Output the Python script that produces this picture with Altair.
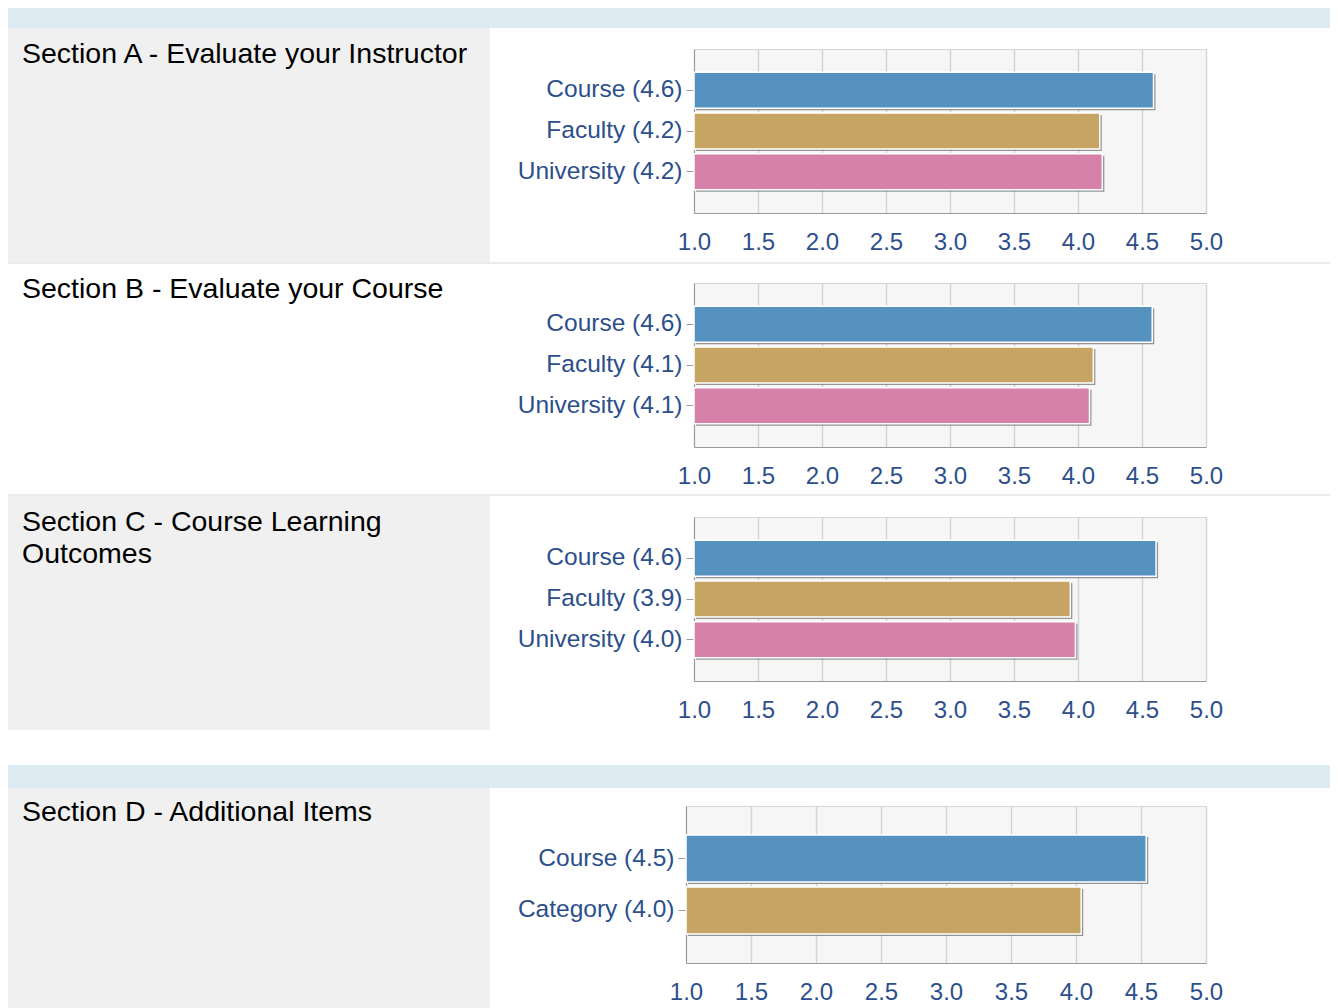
import altair as alt
import pandas as pd

# ---- data ----
SECTION_TITLES = [
    "Section A - Evaluate your Instructor",
    "Section B - Evaluate your Course",
    "Section C - Course Learning\nOutcomes",
    "Section D - Additional Items",
]
A_LABELS = ["Course (4.6)", "Faculty (4.2)", "University (4.2)"]
A_VALUES = [4.59, 4.17, 4.19]
B_LABELS = ["Course (4.6)", "Faculty (4.1)", "University (4.1)"]
B_VALUES = [4.58, 4.12, 4.09]
C_LABELS = ["Course (4.6)", "Faculty (3.9)", "University (4.0)"]
C_VALUES = [4.61, 3.94, 3.98]
D_LABELS = ["Course (4.5)", "Category (4.0)"]
D_VALUES = [4.54, 4.04]
TICKS = [1.0, 1.5, 2.0, 2.5, 3.0, 3.5, 4.0, 4.5, 5.0]
BAR_COLORS = ["#5592c0", "#c6a464", "#d581aa"]

# ---- styles ----
FONT = "Liberation Sans"
LABEL_COLOR = "#2c4f8c"
HEADER = "#deebf3"
GREY = "#f0f0f0"
SEP = "#ebebeb"
FULL_W = 1322
LEFT_W = 482


def blank(w, h, fill="transparent"):
    return (
        alt.Chart(pd.DataFrame({"k": [0]}))
        .mark_rect(opacity=0)
        .encode(x=alt.value(0), x2=alt.value(1), y=alt.value(0), y2=alt.value(1))
        .properties(width=w, height=h,
                    view=alt.ViewBackground(fill=fill, stroke="transparent",
                                            strokeWidth=0))
    )


def title_panel(title, h, fill, base_y):
    df = pd.DataFrame({"t": [title]})
    return (
        alt.Chart(df)
        .mark_text(align="left", baseline="alphabetic", font=FONT, fontSize=28.5,
                   color="#000000", lineBreak="\n", lineHeight=32)
        .encode(x=alt.value(14), y=alt.value(base_y), text="t:N")
        .properties(width=LEFT_W, height=h,
                    view=alt.ViewBackground(fill=fill, stroke="transparent",
                                            strokeWidth=0))
    )


def bars(labels, values, plot_w, plot_h, extent, p_inner, p_outer):
    df = pd.DataFrame({"label": labels, "value": values,
                       "lo": [TICKS[0]] * len(labels),
                       "col": BAR_COLORS[:len(labels)]})
    y = alt.Y(
        "label:N", sort=labels,
        scale=alt.Scale(paddingInner=p_inner, paddingOuter=p_outer),
        axis=alt.Axis(title=None, labelFont=FONT, labelFontSize=24.5,
                      labelColor=LABEL_COLOR, labelPadding=4, tickSize=8,
                      tickColor="#9a9a9a", tickWidth=1, domainColor="#9a9a9a",
                      domainWidth=1, minExtent=extent, maxExtent=extent,
                      labelLimit=400, grid=False, bandPosition=0.5),
    )
    x = alt.X(
        "value:Q",
        scale=alt.Scale(domain=[TICKS[0], TICKS[-1]], zero=False, nice=False),
        axis=alt.Axis(title=None, values=TICKS, format=".1f", labelFont=FONT,
                      labelFontSize=24, labelColor=LABEL_COLOR, labelFlush=False,
                      labelOverlap=False, ticks=False, tickSize=0,
                      labelPadding=17, domainColor="#9a9a9a", domainWidth=1,
                      grid=True, gridColor="#d4d4d4", gridWidth=1.5),
    )
    base = alt.Chart(df)
    shadow = base.mark_bar(color="#555555", opacity=0.6, xOffset=2,
                           x2Offset=2, yOffset=2).encode(x=x, x2="lo:Q", y=y)
    main = base.mark_bar(stroke="#ffffff", strokeWidth=1.5).encode(
        x=x, x2="lo:Q", y=y,
        color=alt.Color("col:N", scale=None),
    )
    return alt.layer(shadow, main).properties(
        width=plot_w, height=plot_h,
        view=alt.ViewBackground(fill="#f6f6f6", stroke="#d6d6d6",
                                strokeWidth=1),
    )


def row(title, fill, labels, values, row_h, top, base_y, plot_w, plot_h,
        extent, pi, po):
    left = title_panel(title, row_h, fill, base_y)
    right = alt.vconcat(blank(10, top),
                        bars(labels, values, plot_w, plot_h, extent, pi, po),
                        spacing=0)
    return alt.hconcat(left, right, spacing=0)


rowA = row(SECTION_TITLES[0], GREY, A_LABELS, A_VALUES, 234, 20, 35,
           512, 164, 203, 0.117, 0.571)
rowB = row(SECTION_TITLES[1], "#ffffff", B_LABELS, B_VALUES, 230, 18, 34,
           512, 164, 203, 0.117, 0.571)
rowC = row(SECTION_TITLES[2], GREY, C_LABELS, C_VALUES, 234, 20, 35,
           512, 164, 203, 0.117, 0.571)
rowD = row(SECTION_TITLES[3], GREY, D_LABELS, D_VALUES, 220, 17, 33,
           520, 157, 195, 0.096, 0.558)

chart = alt.vconcat(
    blank(FULL_W, 20, HEADER),
    rowA,
    blank(FULL_W, 2, SEP),
    rowB,
    blank(FULL_W, 2, SEP),
    rowC,
    blank(FULL_W, 35),
    blank(FULL_W, 23, HEADER),
    rowD,
    spacing=0,
).properties(padding=0, background="#ffffff").configure_view(
    stroke="transparent", strokeWidth=0)

chart.save("out.html", embed_options={"renderer": "svg", "actions": False})
